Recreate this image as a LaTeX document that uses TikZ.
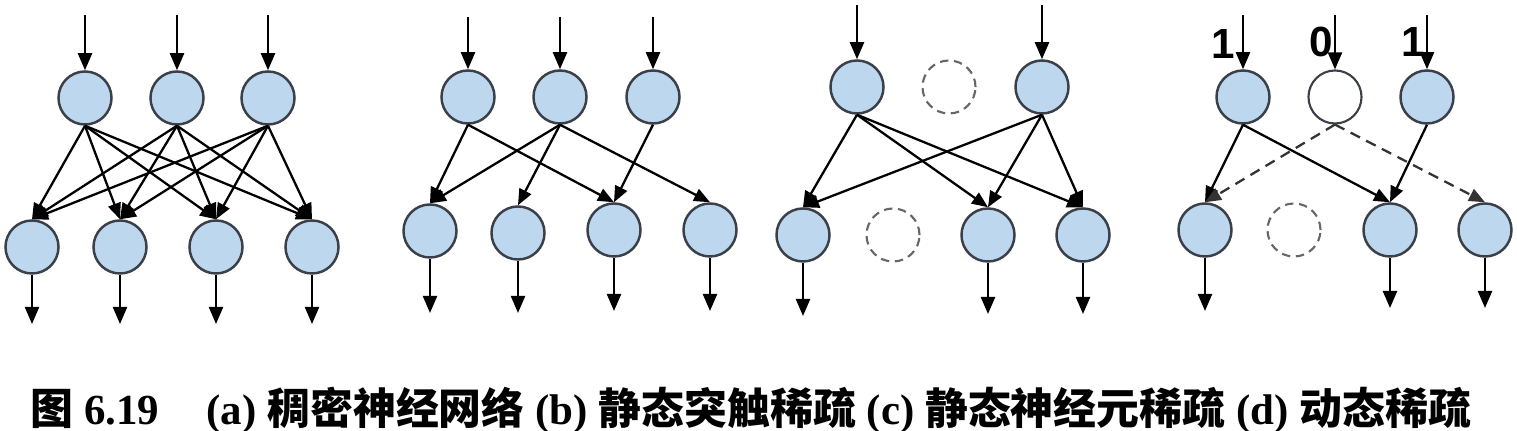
\documentclass[tikz,border=0pt]{standalone}
\usepackage{fontspec}
\setmainfont{Liberation Serif}
\newfontfamily\cjk{Noto Sans CJK SC}
\newfontfamily\digitfont{Liberation Sans}
\usepackage{tikz}
\usetikzlibrary{arrows.meta}
\definecolor{cellblue}{HTML}{BDD7EE}
\definecolor{rimgray}{HTML}{3B3F48}

\begin{document}
\begin{tikzpicture}[x=0.01cm, y=-0.01cm,
        neuron/.style={circle, draw=rimgray, line width=0.7pt, fill=cellblue, minimum size=0.53cm, inner sep=0pt},
        idle/.style={circle, draw=rimgray, line width=0.6pt, fill=white, minimum size=0.53cm, inner sep=0pt},
        pruned/.style={circle, draw=black!60, line width=0.6pt, dash pattern=on 2.4pt off 1.6pt, minimum size=0.53cm, inner sep=0pt},
        link/.style={line width=0.65pt, -{Triangle[length=0.16cm, width=0.13cm]}},
        io/.style={line width=0.65pt, -{Triangle[length=0.17cm, width=0.14cm]}},
        skip/.style={link, draw=black!80, dash pattern=on 3pt off 2pt},
        bit/.style={font=\digitfont\bfseries\fontsize{12}{14}\selectfont}]
            \useasboundingbox (0,0) rectangle (1517,431);

            \node[neuron] (at1) at (85, 98) {};
            \node[neuron] (at2) at (177, 98) {};
            \node[neuron] (at3) at (268, 98) {};
            \node[neuron] (ab1) at (32, 247) {};
            \node[neuron] (ab2) at (120, 247) {};
            \node[neuron] (ab3) at (216, 247) {};
            \node[neuron] (ab4) at (312, 247) {};
            \coordinate (ain1) at (85, 15);
            \coordinate (ain2) at (177, 15);
            \coordinate (ain3) at (268, 15);
            \coordinate (aout1) at (32, 324);
            \coordinate (aout2) at (120, 324);
            \coordinate (aout3) at (216, 324);
            \coordinate (aout4) at (312, 324);
            \draw[io] (ain1) -- (at1);
            \draw[io] (ain2) -- (at2);
            \draw[io] (ain3) -- (at3);
            \draw[io] (ab1) -- (aout1);
            \draw[io] (ab2) -- (aout2);
            \draw[io] (ab3) -- (aout3);
            \draw[io] (ab4) -- (aout4);
            \draw[link] (at1.south) -- (ab1.north);
            \draw[link] (at1.south) -- (ab2.north);
            \draw[link] (at1.south) -- (ab3.north);
            \draw[link] (at1.south) -- (ab4.north);
            \draw[link] (at2.south) -- (ab1.north);
            \draw[link] (at2.south) -- (ab2.north);
            \draw[link] (at2.south) -- (ab3.north);
            \draw[link] (at2.south) -- (ab4.north);
            \draw[link] (at3.south) -- (ab1.north);
            \draw[link] (at3.south) -- (ab2.north);
            \draw[link] (at3.south) -- (ab3.north);
            \draw[link] (at3.south) -- (ab4.north);

            \node[neuron] (bt1) at (468, 97) {};
            \node[neuron] (bt2) at (560, 97) {};
            \node[neuron] (bt3) at (653, 97) {};
            \node[neuron] (bb1) at (430, 231) {};
            \node[neuron] (bb2) at (518, 233) {};
            \node[neuron] (bb3) at (614, 230) {};
            \node[neuron] (bb4) at (710, 230) {};
            \coordinate (bin1) at (468, 17);
            \coordinate (bin2) at (560, 17);
            \coordinate (bin3) at (653, 17);
            \coordinate (bout1) at (430, 313);
            \coordinate (bout2) at (518, 313);
            \coordinate (bout3) at (614, 311);
            \coordinate (bout4) at (710, 311);
            \draw[io] (bin1) -- (bt1);
            \draw[io] (bin2) -- (bt2);
            \draw[io] (bin3) -- (bt3);
            \draw[io] (bb1) -- (bout1);
            \draw[io] (bb2) -- (bout2);
            \draw[io] (bb3) -- (bout3);
            \draw[io] (bb4) -- (bout4);
            \draw[link] (bt1.south) -- (bb1.north);
            \draw[link] (bt1.south) -- (bb3.north);
            \draw[link] (bt2.south) -- (bb1.north);
            \draw[link] (bt2.south) -- (bb2.north);
            \draw[link] (bt2.south) -- (bb4.north);
            \draw[link] (bt3.south) -- (bb3.north);

            \node[neuron] (ct1) at (857, 87) {};
            \node[pruned] (ct2) at (949, 87) {};
            \node[neuron] (ct3) at (1042, 87) {};
            \node[neuron] (cb1) at (803, 235) {};
            \node[pruned] (cb2) at (893, 235) {};
            \node[neuron] (cb3) at (988, 235) {};
            \node[neuron] (cb4) at (1083, 235) {};
            \coordinate (cin1) at (857, 5);
            \coordinate (cin3) at (1042, 5);
            \coordinate (cout1) at (803, 316);
            \coordinate (cout3) at (988, 314);
            \coordinate (cout4) at (1083, 314);
            \draw[io] (cin1) -- (ct1);
            \draw[io] (cin3) -- (ct3);
            \draw[io] (cb1) -- (cout1);
            \draw[io] (cb3) -- (cout3);
            \draw[io] (cb4) -- (cout4);
            \draw[link] (ct1.south) -- (cb1.north);
            \draw[link] (ct1.south) -- (cb3.north);
            \draw[link] (ct1.south) -- (cb4.north);
            \draw[link] (ct3.south) -- (cb1.north);
            \draw[link] (ct3.south) -- (cb3.north);
            \draw[link] (ct3.south) -- (cb4.north);

            \node[neuron] (dt1) at (1243, 97) {};
            \node[idle] (dt2) at (1335, 97) {};
            \node[neuron] (dt3) at (1427, 97) {};
            \node[neuron] (db1) at (1205, 230) {};
            \node[pruned] (db2) at (1294, 230) {};
            \node[neuron] (db3) at (1390, 230) {};
            \node[neuron] (db4) at (1485, 230) {};
            \coordinate (din1) at (1243, 15);
            \coordinate (din2) at (1335, 15);
            \coordinate (din3) at (1427, 15);
            \coordinate (dout1) at (1205, 311);
            \coordinate (dout3) at (1390, 308);
            \coordinate (dout4) at (1485, 308);
            \node[bit] (dbit1) at (1223, 44) {1};
            \node[bit] (dbit2) at (1321, 42) {0};
            \node[bit] (dbit3) at (1413, 42) {1};
            \draw[io] (din1) -- (dt1);
            \draw[io] (din2) -- (dt2);
            \draw[io] (din3) -- (dt3);
            \draw[io] (db1) -- (dout1);
            \draw[io] (db3) -- (dout3);
            \draw[io] (db4) -- (dout4);
            \draw[link] (dt1.south) -- (db1.north);
            \draw[link] (dt1.south) -- (db3.north);
            \draw[skip] (dt2.south) -- (db1.north);
            \draw[skip] (dt2.south) -- (db4.north);
            \draw[link] (dt3.south) -- (db3.north);

            \node[anchor=west, inner sep=0pt, font=\bfseries\fontsize{12.2}{14}\selectfont] (caption) at (30, 410)
                {{\cjk 图} 6.19\hspace{1.1em}(a) {\cjk 稠密神经网络} (b) {\cjk 静态突触稀疏} (c) {\cjk 静态神经元稀疏} (d) {\cjk 动态稀疏}};
        \end{tikzpicture}
\end{document}
